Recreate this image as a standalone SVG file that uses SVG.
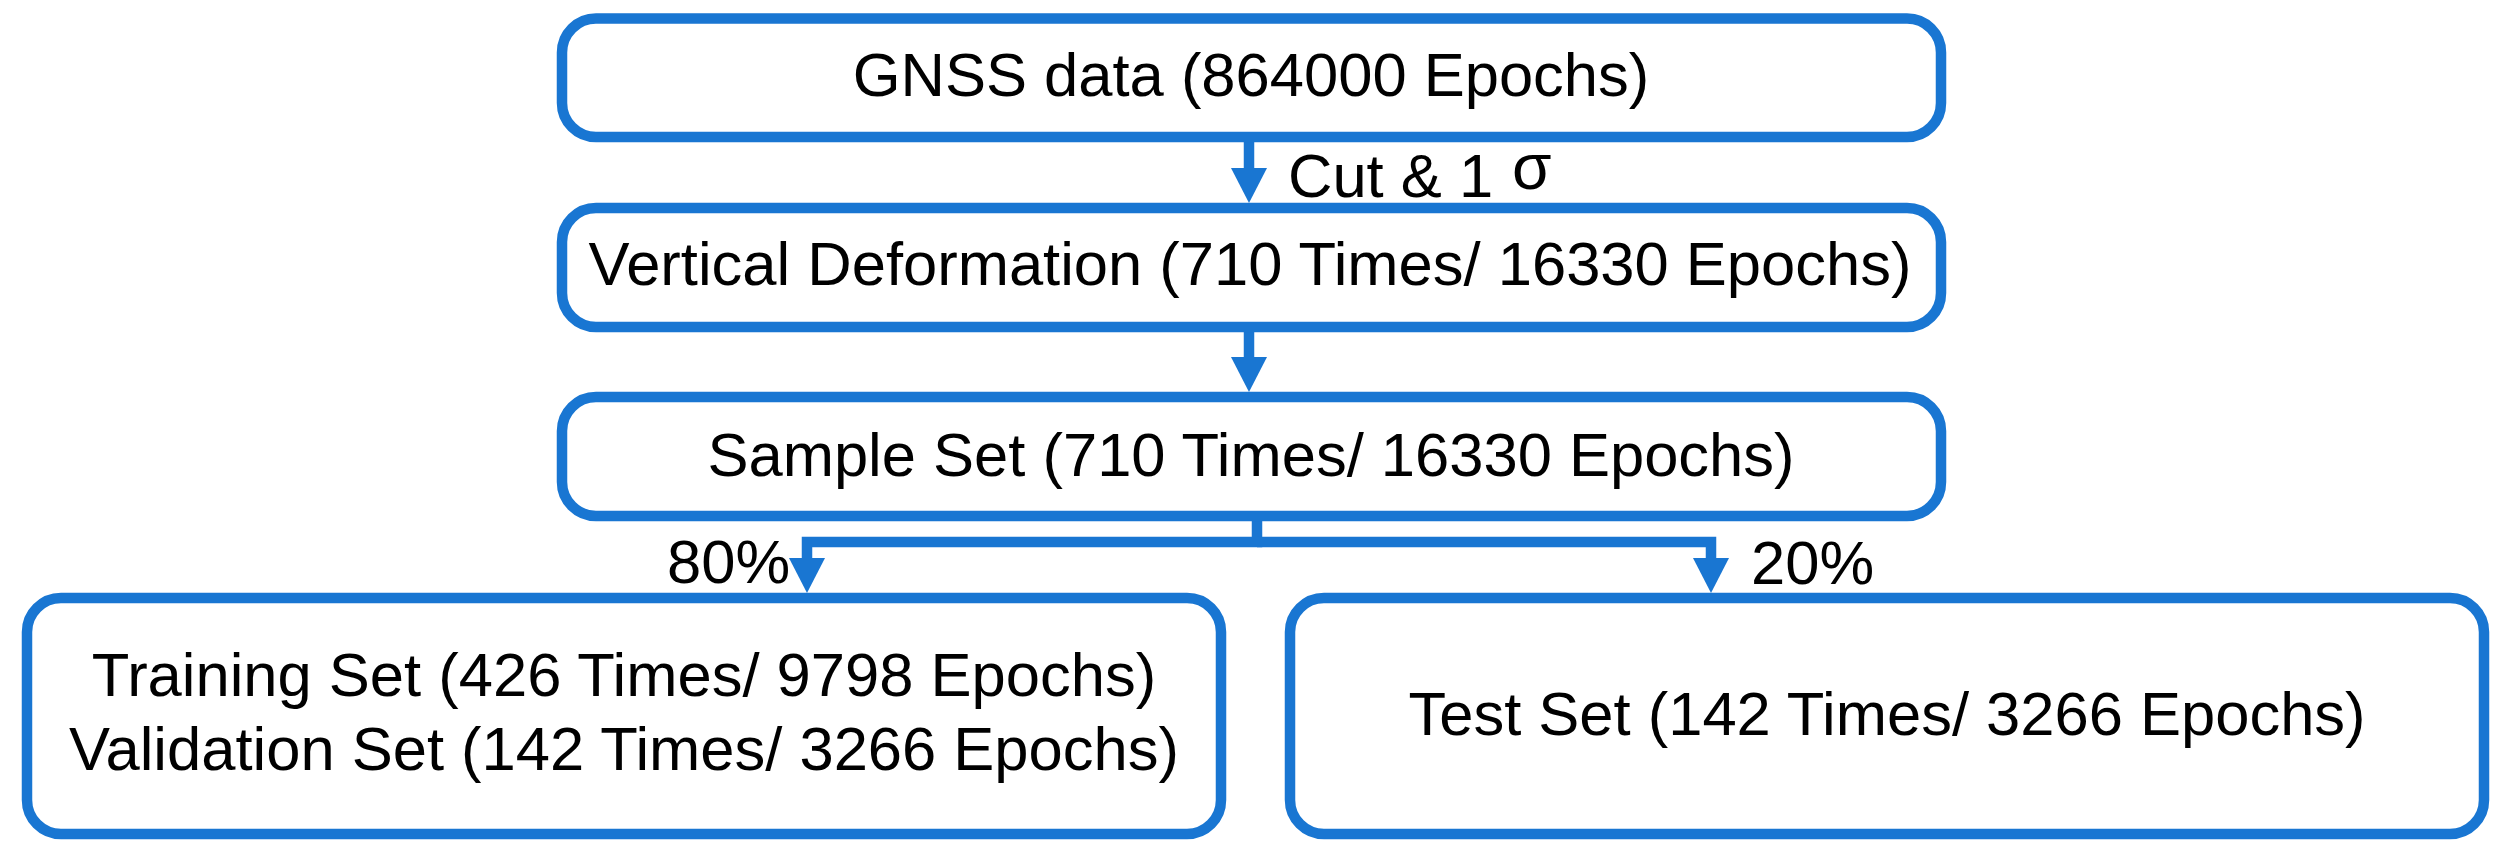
<svg xmlns="http://www.w3.org/2000/svg" width="2506" height="855" viewBox="0 0 2506 855">
<style>
.box{fill:#ffffff;stroke:#1976D2;stroke-width:10.5}
.t{font-family:"Liberation Sans",Arial,sans-serif;font-size:61.5px;fill:#000000;text-anchor:middle}
.l{font-family:"Liberation Sans",Arial,sans-serif;font-size:61.5px;fill:#000000}
.c{fill:none;stroke:#1976D2;stroke-width:10.5;stroke-linejoin:miter}
</style>
<defs>
<marker id="ah" markerUnits="userSpaceOnUse" markerWidth="36" markerHeight="36" viewBox="0 0 36 36" refX="0" refY="18" orient="auto">
<path d="M0,0 L35,18 L0,36 z" fill="#1976D2"/>
</marker>
</defs>
<rect width="2506" height="855" fill="#ffffff"/>
<g id="connectors">
<path class="c" d="M1249,142 V168" marker-end="url(#ah)"/>
<path class="c" d="M1249,332 V357" marker-end="url(#ah)"/>
<path class="c" d="M1257,521 V542 H807 V558" marker-end="url(#ah)"/>
<path class="c" d="M1257,542 H1711 V558" marker-end="url(#ah)"/>
<text class="l" x="1288" y="197">Cut &amp; 1</text>
<text class="l" x="1512" y="189" style="font-size:64px">σ</text>
<text class="l" x="667" y="583">80%</text>
<text class="l" x="1751" y="584">20%</text>
</g>
<g id="gnss">
<rect class="box" x="562" y="18.5" width="1379" height="118.5" rx="34"/>
<text class="t" x="1251" y="96">GNSS data (864000 Epochs)</text>
</g>
<g id="vertical">
<rect class="box" x="562" y="208" width="1379" height="119" rx="34"/>
<text class="t" x="1250" y="285">Vertical Deformation (710 Times/ 16330 Epochs)</text>
</g>
<g id="sample">
<rect class="box" x="562" y="397" width="1379" height="119" rx="34"/>
<text class="t" x="1251" y="476">Sample Set (710 Times/ 16330 Epochs)</text>
</g>
<g id="trainval">
<rect class="box" x="27" y="598" width="1194" height="236" rx="34"/>
<text class="t" x="624" y="696">Training Set (426 Times/ 9798 Epochs)</text>
<text class="t" x="624" y="770">Validation Set (142 Times/ 3266 Epochs)</text>
</g>
<g id="test">
<rect class="box" x="1290" y="598" width="1194" height="236" rx="34"/>
<text class="t" x="1887" y="735">Test Set (142 Times/ 3266 Epochs)</text>
</g>
</svg>
